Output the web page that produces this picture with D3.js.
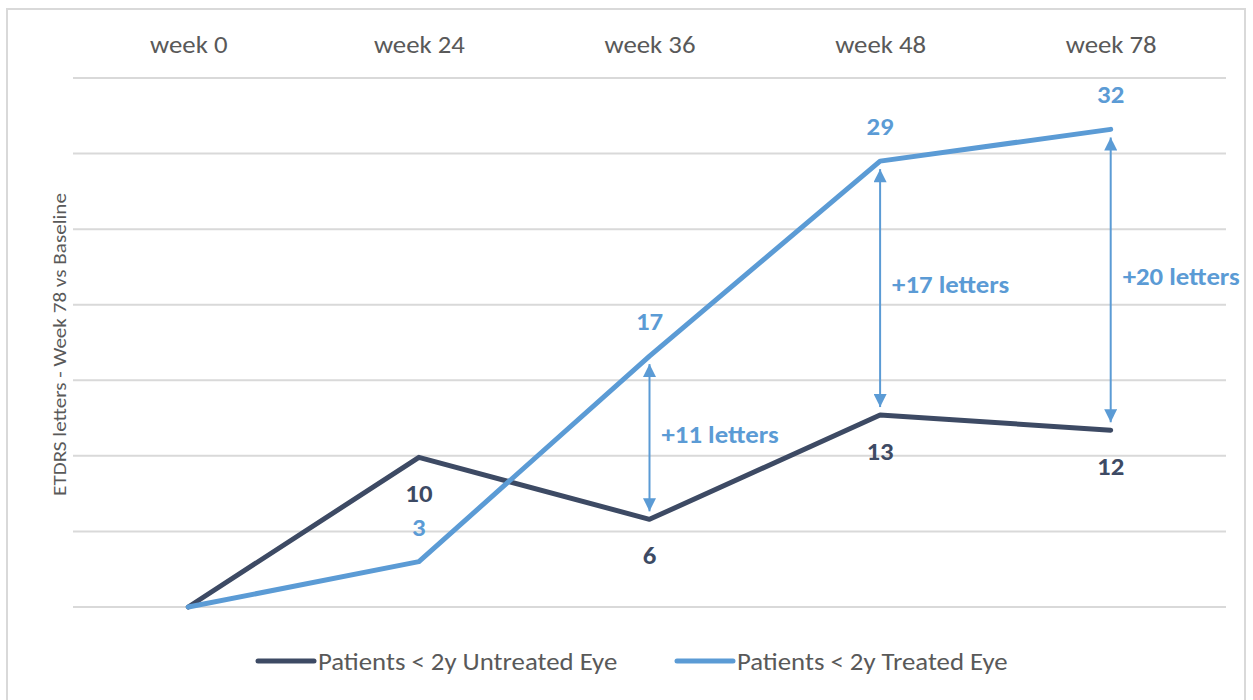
<!DOCTYPE html>
<html>
<head>
<meta charset="utf-8">
<script src="https://cdn.jsdelivr.net/npm/d3@7"></script>
<style>
  html, body { margin: 0; padding: 0; background: #fff; }
  svg { display: block; font-family: Carlito, Lato, "Open Sans", sans-serif; }
</style>
</head>
<body>
<svg id="chart" width="1253" height="700"></svg>
<script>
// ---- data ----
const weeks = ["week 0", "week 24", "week 36", "week 48", "week 78"];
const untreatedValues = [0, 9.9, 5.8, 12.7, 11.7];
const treatedValues   = [0, 3.0, 16.6, 29.5, 31.6];
const untreatedLabels = ["", "10", "6", "13", "12"];
const treatedLabels   = ["", "3", "17", "29", "32"];
const yTicks = [0, 5, 10, 15, 20, 25, 30, 35];
const gapWeeks = ["week 36", "week 48", "week 78"];
const gapLabels = ["+11 letters", "+17 letters", "+20 letters"];
const seriesNames = ["Patients < 2y Untreated Eye", "Patients < 2y Treated Eye"];
const yTitle = "ETDRS letters - Week 78 vs Baseline";

// ---- layout ----
const W = 1253, H = 700;
const plot = { left: 73, right: 1226, top: 78, bottom: 607 };
const cUntreated = "#3d4a64";
const cTreated = "#5b9bd5";
const cText = "#595959";
const STRETCH = 1.14;

const svg = d3.select("#chart");

function stretch(sel) {
  sel.each(function () {
    const len = this.getComputedTextLength();
    if (len > 0) {
      d3.select(this).attr("textLength", len * STRETCH).attr("lengthAdjust", "spacingAndGlyphs");
    }
  });
}

// frame
svg.append("rect").attr("x", 7).attr("y", 9).attr("width", 1238).attr("height", 720)
  .attr("fill", "#fff").attr("stroke", "#d9d9d9").attr("stroke-width", 2);

const x = d3.scalePoint().domain(weeks).range([plot.left, plot.right]).padding(0.5);
const y = d3.scaleLinear().domain([0, 35]).range([plot.bottom, plot.top]);

// gridlines
svg.append("g").selectAll("line").data(yTicks).join("line")
  .attr("x1", plot.left).attr("x2", plot.right)
  .attr("y1", d => y(d)).attr("y2", d => y(d))
  .attr("stroke", "#d9d9d9").attr("stroke-width", 2);

// category labels on top (axis)
const topAxis = d3.axisTop(x).tickSize(0).tickPadding(0);
const gAxis = svg.append("g").attr("transform", `translate(0, 53)`).call(topAxis);
gAxis.select(".domain").remove();
gAxis.selectAll("text")
  .attr("font-family", "Carlito, Lato, sans-serif")
  .attr("font-size", 23.5).attr("fill", cText).attr("dy", 0)
  .call(stretch);

// y title
svg.append("text")
  .attr("transform", `translate(66, ${(plot.top + plot.bottom) / 2 + 2}) rotate(-90)`)
  .attr("text-anchor", "middle")
  .attr("font-size", 18.5).attr("fill", cText)
  .text(yTitle)
  .call(stretch);

// lines
const line = d3.line().x((d, i) => x(weeks[i])).y(d => y(d));
svg.append("path").datum(untreatedValues).attr("d", line)
  .attr("fill", "none").attr("stroke", cUntreated).attr("stroke-width", 5)
  .attr("stroke-linejoin", "round").attr("stroke-linecap", "round");
svg.append("path").datum(treatedValues).attr("d", line)
  .attr("fill", "none").attr("stroke", cTreated).attr("stroke-width", 5)
  .attr("stroke-linejoin", "round").attr("stroke-linecap", "round");

// data labels
svg.append("g").selectAll("text").data(untreatedValues).join("text")
  .attr("x", (d, i) => x(weeks[i])).attr("y", d => y(d) + 45)
  .attr("text-anchor", "middle").attr("font-weight", "bold")
  .attr("font-size", 23.5).attr("fill", cUntreated)
  .text((d, i) => untreatedLabels[i])
  .call(stretch);
svg.append("g").selectAll("text").data(treatedValues).join("text")
  .attr("x", (d, i) => x(weeks[i])).attr("y", d => y(d) - 26)
  .attr("text-anchor", "middle").attr("font-weight", "bold")
  .attr("font-size", 23.5).attr("fill", cTreated)
  .text((d, i) => treatedLabels[i])
  .call(stretch);

// gap arrows
const defs = svg.append("defs");
defs.append("marker").attr("id", "ah").attr("viewBox", "0 0 10 10")
  .attr("refX", 10).attr("refY", 5).attr("markerWidth", 7).attr("markerHeight", 6.5)
  .attr("markerUnits", "strokeWidth")
  .attr("orient", "auto-start-reverse")
  .append("path").attr("d", "M0,0 L10,5 L0,10 z").attr("fill", cTreated);

const gaps = gapWeeks.map((w, k) => {
  const i = weeks.indexOf(w);
  return { w, top: treatedValues[i], bot: untreatedValues[i], label: gapLabels[k] };
});
const gG = svg.append("g");
gG.selectAll("line").data(gaps).join("line")
  .attr("x1", d => x(d.w)).attr("x2", d => x(d.w))
  .attr("y1", d => y(d.top) + 8).attr("y2", d => y(d.bot) - 8)
  .attr("stroke", cTreated).attr("stroke-width", 2)
  .attr("marker-start", "url(#ah)").attr("marker-end", "url(#ah)");
gG.selectAll("text").data(gaps).join("text")
  .attr("x", d => x(d.w) + 12)
  .attr("y", d => (y(d.top) + y(d.bot)) / 2 + 5)
  .attr("font-weight", "bold").attr("font-size", 23.5).attr("fill", cTreated)
  .text(d => d.label)
  .call(stretch);

// legend
const legend = [
  { name: seriesNames[0], color: cUntreated, x0: 256 },
  { name: seriesNames[1], color: cTreated, x0: 675 }
];
const gL = svg.append("g").selectAll("g").data(legend).join("g")
  .attr("transform", d => `translate(${d.x0}, 661)`);
gL.append("line").attr("x1", 2).attr("x2", 58).attr("y1", 0).attr("y2", 0)
  .attr("stroke", d => d.color).attr("stroke-width", 5).attr("stroke-linecap", "round");
gL.append("text").attr("x", 62).attr("y", 8.5)
  .attr("font-size", 23.5).attr("fill", cText)
  .text(d => d.name)
  .call(stretch);
</script>
</body>
</html>
